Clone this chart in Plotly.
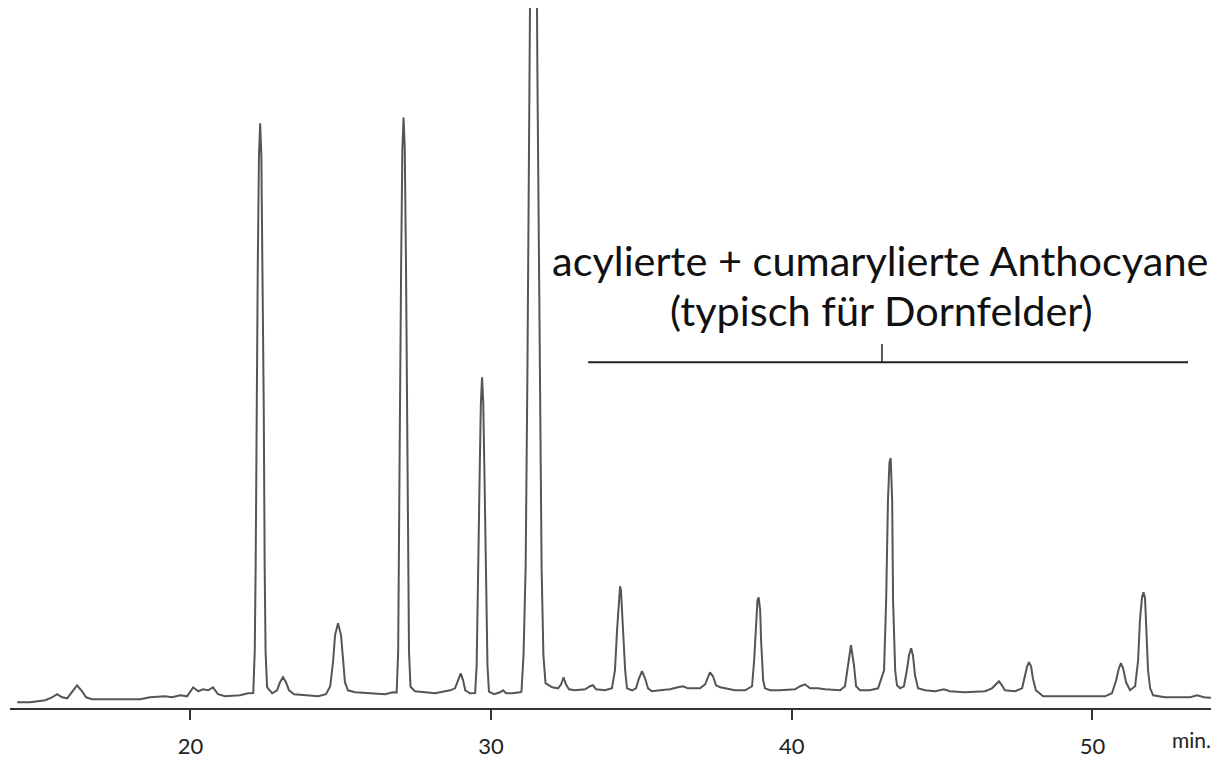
import plotly.graph_objects as go

# Retention time (min) and detector signal (relative units)
time_min = [
    14.24, 14.67, 15.17, 15.40, 15.57, 15.73, 15.90, 16.07, 16.23, 16.40, 16.53, 16.73,
    18.33, 18.66, 19.16, 19.39, 19.66, 19.89, 20.09, 20.26, 20.42, 20.59, 20.75, 20.92,
    21.15, 21.65, 21.92,
    22.09, 22.14, 22.17, 22.20, 22.24, 22.28, 22.32, 22.36, 22.40, 22.44, 22.47, 22.50, 22.55,
    22.58, 22.72, 22.88, 22.98, 23.08, 23.18, 23.28, 23.45, 23.81, 24.25, 24.51, 24.65,
    24.75, 24.81, 24.91, 25.01, 25.08, 25.14, 25.24, 25.48, 25.98, 26.47, 26.74,
    26.86, 26.91, 26.94, 26.97, 27.01, 27.05, 27.09, 27.13, 27.17, 27.21, 27.24, 27.27, 27.32,
    27.47, 27.81, 28.14, 28.47, 28.64, 28.80, 28.90, 28.99, 29.07, 29.14, 29.30,
    29.47, 29.52, 29.55, 29.58, 29.62, 29.66, 29.70, 29.74, 29.78, 29.82, 29.85, 29.88, 29.93,
    30.10, 30.30, 30.40, 30.50, 30.70, 30.96,
    31.01, 31.08, 31.15, 31.21, 31.28, 31.35, 31.41, 31.48, 31.54, 31.61, 31.68, 31.74, 31.81,
    32.03, 32.23, 32.33, 32.41, 32.49, 32.59, 32.79, 33.13, 33.29, 33.39, 33.49, 33.79, 34.02,
    34.12, 34.19, 34.26, 34.29, 34.32, 34.39, 34.46, 34.52, 34.69, 34.82, 34.92, 35.02, 35.12,
    35.22, 35.35, 35.62, 35.95, 36.22, 36.38, 36.55, 36.95, 37.12, 37.22, 37.28, 37.38, 37.48,
    37.62, 37.78, 38.11, 38.45, 38.68,
    38.75, 38.81, 38.86, 38.90, 38.95, 38.98, 39.05, 39.11, 39.28, 39.61, 40.11, 40.28, 40.44,
    40.61, 40.87, 41.11, 41.61, 41.77, 41.87, 41.97, 42.07, 42.14, 42.27, 42.60, 42.87,
    43.07, 43.14, 43.20, 43.25, 43.29, 43.34, 43.37, 43.44, 43.50, 43.60, 43.73, 43.83, 43.90,
    43.97, 44.03, 44.10, 44.20, 44.43, 44.77, 45.06, 45.26, 45.76, 46.43, 46.66, 46.79, 46.89,
    46.99, 47.09, 47.43, 47.66, 47.76, 47.83, 47.89, 47.96, 48.02, 48.12, 48.36, 49.59, 50.42,
    50.65, 50.79, 50.88, 50.95, 51.02, 51.12, 51.25, 51.42, 51.52, 51.58, 51.65, 51.70, 51.75,
    51.78, 51.85, 51.92, 52.02, 52.41, 53.25, 53.48, 53.71, 54.21,
]
signal = [
    0.81, 0.81, 1.09, 1.51, 1.94, 1.51, 1.37, 2.36, 3.21, 2.36, 1.51, 1.23,
    1.23, 1.51, 1.65, 1.51, 1.79, 1.65, 2.92, 2.36, 2.64, 2.50, 2.92, 1.94,
    1.65, 1.79, 2.08,
    2.10, 8.0, 20.0, 42.0, 62.0, 78.0, 82.6, 78.0, 62.0, 42.0, 20.0, 8.0, 3.0,
    2.78, 2.08, 2.50, 3.63, 4.34, 3.63, 2.50, 1.94, 1.79, 1.65, 1.94, 3.07,
    6.74, 10.27, 11.97, 10.27, 6.74, 3.63, 2.50, 2.22, 2.08, 1.94, 2.22,
    2.20, 8.0, 20.0, 42.0, 63.0, 79.0, 83.4, 79.0, 63.0, 42.0, 20.0, 8.0, 3.0,
    2.36, 2.22, 2.08, 2.36, 2.50, 2.78, 3.91, 4.90, 3.91, 2.50, 2.08,
    2.10, 6.0, 12.0, 22.0, 33.0, 43.0, 46.7, 43.0, 33.0, 22.0, 12.0, 6.0, 2.3,
    1.94, 2.22, 2.50, 2.08, 2.08, 2.22,
    2.30, 7.5, 20.0, 48.0, 90.0, 133.0, 152.0, 133.0, 90.0, 48.0, 20.0, 7.5, 3.5,
    2.92, 2.78, 3.35, 4.34, 3.35, 2.64, 2.50, 2.64, 3.07, 3.21, 2.64, 2.50, 2.78,
    5.30, 11.0, 15.9, 17.2, 16.6, 11.0, 5.30, 2.78, 2.50, 2.78, 4.20, 5.19, 4.20,
    2.78, 2.36, 2.50, 2.64, 2.92, 3.07, 2.78, 2.78, 3.35, 4.62, 5.05, 4.48, 3.21,
    2.92, 2.78, 2.50, 2.50, 3.07,
    6.74, 12.4, 15.2, 15.64, 13.8, 9.57, 3.91, 2.78, 2.50, 2.50, 2.64, 3.07, 3.35,
    2.78, 2.78, 2.64, 2.50, 3.07, 6.03, 8.86, 6.03, 3.07, 2.50, 2.50, 2.78,
    5.33, 15.2, 29.35, 34.7, 35.3, 29.35, 15.2, 5.33, 3.21, 2.78, 3.07, 5.33, 7.45,
    8.44, 7.45, 4.62, 2.78, 2.50, 2.36, 2.64, 2.36, 2.22, 2.36, 2.78, 3.35, 3.77,
    3.21, 2.50, 2.36, 2.78, 4.62, 5.89, 6.46, 5.89, 4.20, 2.50, 1.65, 1.65, 1.65,
    2.08, 3.91, 5.61, 6.32, 5.61, 3.63, 2.50, 3.07, 6.74, 12.4, 15.64, 16.35, 15.5,
    11.69, 5.33, 2.78, 1.79, 1.51, 1.51, 1.79, 1.51, 1.37,
]

x_ticks = [20, 30, 40, 50]
unit_label = "min."
label_line1 = "acylierte + cumarylierte Anthocyane"
label_line2 = "(typisch für Dornfelder)"
bracket_start, bracket_end, bracket_mid = 33.23, 53.18, 43.0
bracket_level, bracket_tick_top = 48.85, 51.4

fig = go.Figure()
fig.add_trace(go.Scatter(
    x=time_min, y=signal, mode="lines",
    line=dict(color="#555555", width=2),
    hoverinfo="x+y", showlegend=False,
))

# bracket marking the acylated / coumaroylated anthocyanins
fig.add_shape(type="line", xref="x", yref="y",
              x0=bracket_start, x1=bracket_end, y0=bracket_level, y1=bracket_level,
              line=dict(color="#222", width=2))
fig.add_shape(type="line", xref="x", yref="y",
              x0=bracket_mid, x1=bracket_mid, y0=bracket_level, y1=bracket_tick_top,
              line=dict(color="#222", width=1.5))

fig.add_annotation(x=42.92, y=63.3, xref="x", yref="y", text=label_line1,
                   showarrow=False, font=dict(family="Lato", size=41.5, color="#111"))
fig.add_annotation(x=bracket_mid, y=56.2, xref="x", yref="y", text=label_line2,
                   showarrow=False, font=dict(family="Lato", size=41.5, color="#111"))

fig.add_annotation(x=0.977, y=-0.045, xref="paper", yref="paper", text=unit_label,
                   xanchor="center", yanchor="middle",
                   showarrow=False, font=dict(family="Lato", size=21, color="#222"))

# the page body adds an 8px offset, so the figure is sized to the remaining window
fig.update_layout(
    width=1211, height=750,
    margin=dict(l=2, r=0, t=0, b=50, autoexpand=False),
    paper_bgcolor="white", plot_bgcolor="white",
    font=dict(family="Lato", color="#222"),
    xaxis=dict(
        range=[14.0, 54.21], tickvals=x_ticks, ticktext=[str(v) for v in x_ticks],
        showgrid=False, zeroline=False, showline=True, linecolor="#333", linewidth=2,
        ticks="outside", ticklen=10, tickwidth=2, tickcolor="#333",
        tickfont=dict(family="Lato", size=22, color="#222"), ticklabelstandoff=8,
        automargin=False,
    ),
    yaxis=dict(range=[0, 98.87], visible=False, showgrid=False, zeroline=False),
)

fig.write_html("out.html")
